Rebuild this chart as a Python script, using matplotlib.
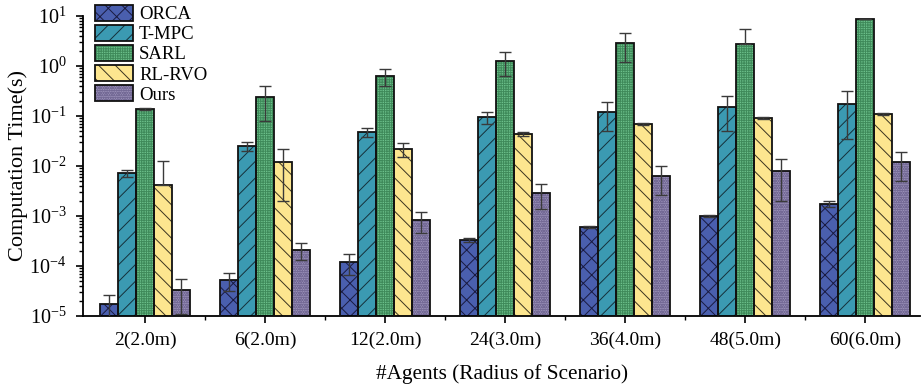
import matplotlib
matplotlib.use("Agg")
import matplotlib.pyplot as plt
import numpy as np
from matplotlib.ticker import LogLocator, FixedLocator, NullFormatter
from matplotlib.legend_handler import HandlerTuple
from matplotlib.patches import Patch

categories = ["2(2.0m)", "6(2.0m)", "12(2.0m)", "24(3.0m)", "36(4.0m)", "48(5.0m)", "60(6.0m)"]
methods = ["ORCA", "T-MPC", "SARL", "RL-RVO", "Ours"]

orca = [1.7e-5, 5.2e-5, 1.2e-4, 3.3e-4, 6.0e-4, 1.0e-3, 1.74e-3]
orca_err = [0.9e-5, 2.0e-5, 0.54e-4, 0.3e-4, 0.3e-4, 0.03e-3, 0.26e-3]
tmpc = [7.2e-3, 0.025, 0.048, 0.095, 0.12, 0.15, 0.174]
tmpc_err = [1.3e-3, 0.005, 0.0095, 0.025, 0.07, 0.10, 0.14]
sarl = [0.138, 0.24, 0.63, 1.26, 2.9, 2.75, 8.7]
sarl_err = [0.005, 0.16, 0.24, 0.64, 1.7, 2.75, 0.1]
rlrvo = [4.2e-3, 0.012, 0.022, 0.044, 0.069, 0.091, 0.11]
rlrvo_err = [8.4e-3, 0.010, 0.007, 0.004, 0.003, 0.004, 0.003]
ours = [3.3e-5, 2.1e-4, 8.3e-4, 2.9e-3, 6.3e-3, 7.9e-3, 0.012]
ours_err = [2.2e-5, 0.8e-4, 3.7e-4, 1.5e-3, 3.7e-3, 5.9e-3, 0.007]

values = [orca, tmpc, sarl, rlrvo, ours]
errors = [orca_err, tmpc_err, sarl_err, rlrvo_err, ours_err]
colors = ["#4a5fae", "#3b9ab2", "#6cc08b", "#fde68f", "#9d93bb"]
hatch_colors = ["#1a1a40", "#15303a", "#3f8a5a", "#3a3320", "#746a96"]
hatches = ["xx", "//", "+++++++", "\\\\", "ooooooo"]

plt.rcParams["font.family"] = ["Liberation Serif", "DejaVu Serif"]
plt.rcParams["mathtext.fontset"] = "stix"
plt.rcParams["hatch.linewidth"] = 0.7

fig = plt.figure(figsize=(9.23, 3.87), dpi=100)
ax = fig.add_axes([0.09, 0.1835, 0.907, 0.7752])

x = np.arange(len(categories))
width = 0.15
handles = []
for i, (vals, errs) in enumerate(zip(values, errors)):
    pos = x + (i - 2) * width
    vals = np.array(vals)
    errs = np.array(errs)
    lower = np.where(errs < vals, errs, 0.0)
    ax.errorbar(pos, vals, yerr=[lower, errs], fmt="none", ecolor="#3a3a3a",
                elinewidth=1.0, capsize=4.3, capthick=1.0, zorder=4)
    ax.bar(pos, vals, width, color=colors[i], hatch=hatches[i],
           edgecolor=hatch_colors[i], linewidth=0, zorder=2)
    ax.bar(pos, vals, width, fill=False, edgecolor="#111111", linewidth=1.3, zorder=3)
    h = Patch(facecolor=colors[i], hatch=hatches[i], edgecolor=hatch_colors[i], linewidth=0)
    h2 = Patch(fill=False, edgecolor="#111111", linewidth=1.3)
    handles.append((h, h2))

ax.set_yscale("log")
ax.set_ylim(1e-5, 10)
ax.set_xlim(-0.517, 6.458)
ax.yaxis.set_major_locator(LogLocator(base=10, numticks=10))
ax.yaxis.set_minor_locator(LogLocator(base=10, subs=np.arange(2, 10), numticks=20))
ax.yaxis.set_minor_formatter(NullFormatter())
ax.set_xticks(x)
ax.set_xticklabels(categories, fontsize=14)
ax.xaxis.set_minor_locator(FixedLocator(x[:-1] + 0.5))
ax.tick_params(axis="y", labelsize=14.5, pad=7)
ax.tick_params(axis="x", pad=6)
ax.tick_params(which="major", direction="out", length=5, width=1.2)
ax.tick_params(which="minor", direction="out", length=3, width=1.0)
for s in ["top", "right"]:
    ax.spines[s].set_visible(False)
for s in ["left", "bottom"]:
    ax.spines[s].set_linewidth(1.3)

ax.set_ylabel("Computation Time(s)", fontsize=16, labelpad=1)
ax.set_xlabel("#Agents (Radius of Scenario)", fontsize=15.3, labelpad=11)

leg = ax.legend(handles, methods, loc="upper left", bbox_to_anchor=(0.0143, 1.037),
                frameon=False, fontsize=13.5, handlelength=2.05, handleheight=0.95,
                handletextpad=0.3, labelspacing=0.08, borderaxespad=0.0, borderpad=0.0,
                handler_map={tuple: HandlerTuple(ndivide=1, pad=0)})

fig.savefig("out.png", dpi=100)
